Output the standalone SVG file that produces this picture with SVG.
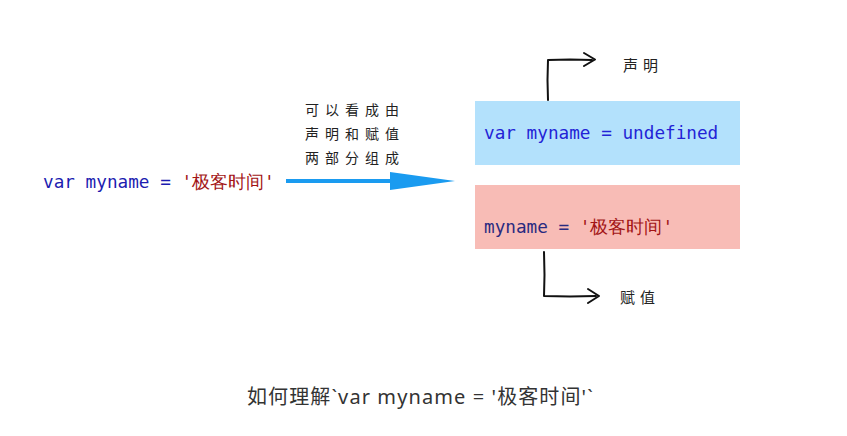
<svg xmlns="http://www.w3.org/2000/svg" width="847" height="436" viewBox="0 0 847 436">
<style>
.code{font-family:"DejaVu Sans Mono","Liberation Mono",monospace;font-size:17.7px}
.kw{fill:#1c1cb0}
.str{fill:#a31515}
.note{font-family:"Noto Sans CJK SC",sans-serif;font-size:14px;fill:#222;letter-spacing:6px}
.lbl{font-family:"Noto Sans CJK SC",sans-serif;font-size:15px;fill:#222;letter-spacing:5px}
.hand{fill:none;stroke:#111;stroke-width:2;stroke-linejoin:round;stroke-linecap:round}
</style>
<rect width="847" height="436" fill="#fff"/>
<g id="source">
<text class="code" x="43" y="188"><tspan class="kw">var myname = </tspan><tspan class="str">'极客时间'</tspan></text>
</g>
<g id="note">
<text class="note" x="305" y="115">可以看成由</text>
<text class="note" x="305" y="139">声明和赋值</text>
<text class="note" x="305" y="163">两部分组成</text>
</g>
<g id="decl">
<rect x="475" y="101" width="265" height="64" fill="#b3e1fc"/>
<text class="code" x="484" y="139" fill="#2323d6">var myname = undefined</text>
</g>
<g id="assign">
<rect x="475" y="185" width="265" height="64" fill="#f8bcb6"/>
<text class="code" x="484" y="233"><tspan fill="#2a2a80">myname = </tspan><tspan class="str">'极客时间'</tspan></text>
</g>
<g id="label-decl"><text class="lbl" x="623" y="71">声明</text></g>
<g id="label-assign"><text class="lbl" x="620" y="303">赋值</text></g>
<g id="connectors">
<path d="M286 181 H400" stroke="#1a9bf0" stroke-width="4" fill="none"/>
<path d="M390 172 L455 181 L390 190 Z" fill="#1a9bf0"/>
<path class="hand" d="M548 100 L547.5 80 L548 60 L570 59.5 L592 60"/>
<path class="hand" d="M584 53 L595 59.5 L584 66"/>
<path class="hand" d="M544 252 L544.5 275 L544 296 L570 296.5 L596 296"/>
<path class="hand" d="M588 289 L599 296 L588 303"/>
</g>
<g id="caption">
<text x="247" y="404" font-family="'Noto Sans','Noto Sans CJK SC',sans-serif" font-size="20" letter-spacing="1.1" fill="#333">如何理解`var myname = '极客时间'`</text>
</g>
</svg>
